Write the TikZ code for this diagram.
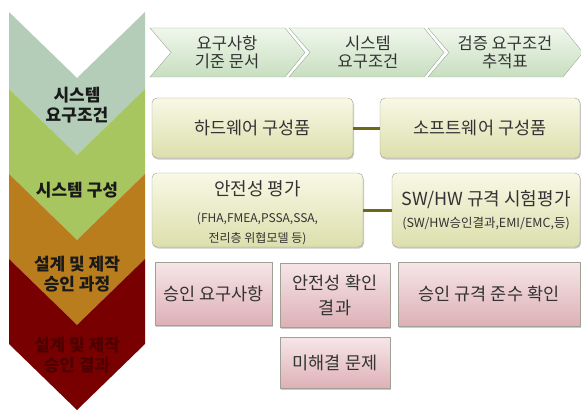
\documentclass[tikz,border=0pt]{standalone}
\usepackage{fontspec}
\setmainfont{Noto Sans CJK KR}
\usetikzlibrary{shadows}
\definecolor{chevA}{HTML}{B4CDB9}
\definecolor{chevB}{HTML}{A8C660}
\definecolor{chevC}{HTML}{B97D1E}
\definecolor{chevD}{HTML}{780000}
\definecolor{txtD}{HTML}{4E0000}
\definecolor{arrTop}{HTML}{F0F7EC}
\definecolor{arrBot}{HTML}{C8DEC0}
\definecolor{arrLine}{HTML}{9AAA9A}
\definecolor{ylTop}{HTML}{F8F8E6}
\definecolor{ylBot}{HTML}{DCDFAC}
\definecolor{pkTop}{HTML}{F6E6E8}
\definecolor{pkBot}{HTML}{DDB0B6}
\definecolor{boxLine}{HTML}{A0A094}
\definecolor{linkCol}{HTML}{6E6A14}
\begin{document}
\begin{tikzpicture}[x=1pt,y=-1pt,
  chevlabel/.style={font=\bfseries\fontsize{17}{20}\selectfont, align=center, text=black!90},
  arrowlabel/.style={font=\fontsize{16.5}{18}\selectfont, align=center, text=black!80},
  ylbox/.style={draw=boxLine, rounded corners=5pt, top color=ylTop, bottom color=ylBot,
    drop shadow={shadow xshift=1pt, shadow yshift=-1.5pt, fill=black!35, opacity=0.6},
    font=\fontsize{17.5}{20}\selectfont, align=center, text=black!80, inner sep=0pt},
  pkbox/.style={draw=boxLine, top color=pkTop, bottom color=pkBot,
    drop shadow={shadow xshift=1pt, shadow yshift=-1.5pt, fill=black!35, opacity=0.6},
    font=\fontsize{17.5}{25}\selectfont, align=center, text=black!80, inner sep=0pt},
  link/.style={draw=linkCol, line width=3pt}
]
\useasboundingbox (0,0) rectangle (581,412);

% left chevron column
\fill[chevA] (9,12) -- (77,78) -- (145,12) -- (145,89) -- (77,155) -- (9,89) -- cycle;
\fill[chevB] (9,89) -- (77,155) -- (145,89) -- (145,174) -- (77,240) -- (9,174) -- cycle;
\fill[chevC] (9,174) -- (77,240) -- (145,174) -- (145,259) -- (77,325) -- (9,259) -- cycle;
\fill[chevD] (9,259) -- (77,325) -- (145,259) -- (145,344) -- (77,410) -- (9,344) -- cycle;

\node[chevlabel] (c1) at (77,105) {시스템\\요구조건};
\node[chevlabel] (c2) at (77,190) {시스템 구성};
\node[chevlabel] (c3) at (77,274) {설계 및 제작\\승인 과정};
\node[chevlabel, text=txtD] (c4) at (77,355) {설계 및 제작\\승인 결과};

% top row process arrows
\shade[top color=arrTop, bottom color=arrBot, draw=arrLine]
  (150,28) -- (285,28) -- (305,52.5) -- (285,77) -- (150,77) -- (171,52.5) -- cycle;
\shade[top color=arrTop, bottom color=arrBot, draw=arrLine]
  (289,28) -- (424,28) -- (444,52.5) -- (424,77) -- (289,77) -- (310,52.5) -- cycle;
\shade[top color=arrTop, bottom color=arrBot, draw=arrLine]
  (428,28) -- (563,28) -- (583,52.5) -- (563,77) -- (428,77) -- (449,52.5) -- cycle;
\node[arrowlabel] (a1) at (227,52) {요구사항\\기준 문서};
\node[arrowlabel] (a2) at (368,52) {시스템\\요구조건};
\node[arrowlabel] (a3) at (505,52) {검증 요구조건\\추적표};

% row 2
\node[ylbox, minimum width=201pt, minimum height=60pt] (hw) at (252.5,128) {하드웨어 구성품};
\node[ylbox, minimum width=200pt, minimum height=60pt] (sw) at (480,128) {소프트웨어 구성품};
\draw[link] (hw.east) -- (sw.west);

% row 3
\node[ylbox, minimum width=211pt, minimum height=74pt] (sa) at (257.5,210) {};
\node[font=\fontsize{12}{20}\selectfont, align=center, text=black!80] (satext) at (257.5,212.5)
  {{\fontsize{18}{20}\selectfont 안전성 평가}\\[7pt]
   (FHA,FMEA,PSSA,SSA,\\
   전리층 위협모델 등)};
\node[ylbox, minimum width=188pt, minimum height=74pt, font=\fontsize{12.5}{18}\selectfont] (st) at (486,210)
  {{\fontsize{18}{20}\selectfont SW/HW 규격 시험평가}\\[4pt]
   (SW/HW승인결과,EMI/EMC,등)};
\draw[link] (sa.east) -- (st.west);

% row 4
\node[pkbox, minimum width=117pt, minimum height=63pt] (r1) at (213.5,293.5) {승인 요구사항};
\node[pkbox, minimum width=110pt, minimum height=64pt] (r2) at (335,295) {안전성 확인\\결과};
\node[pkbox, minimum width=182pt, minimum height=64pt] (r3) at (489,294) {승인 규격 준수 확인};
\node[pkbox, minimum width=110pt, minimum height=51pt] (r4) at (335,363) {미해결 문제};
\end{tikzpicture}
\end{document}
